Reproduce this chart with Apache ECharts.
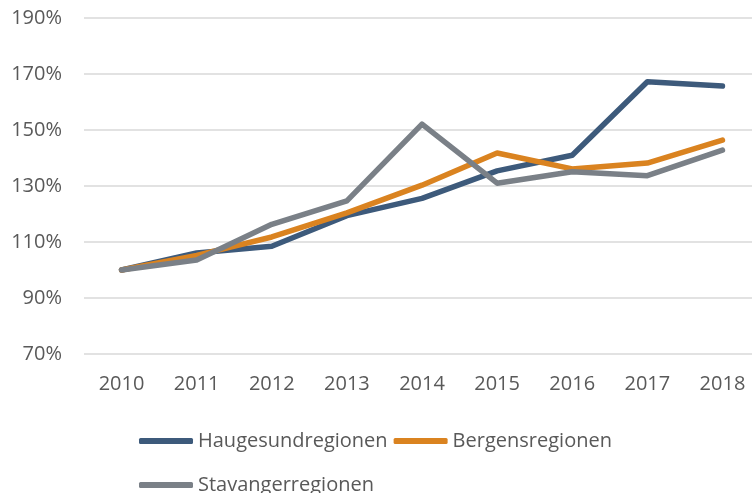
<!DOCTYPE html>
<html>
<head>
<meta charset="utf-8">
<script src="https://cdn.jsdelivr.net/npm/echarts@6/dist/echarts.min.js"></script>
<style>html,body{margin:0;padding:0;background:#fff}#c{width:752px;height:493px}</style>
</head>
<body>
<div id="c"></div>
<script>
const years = ['2010','2011','2012','2013','2014','2015','2016','2017','2018'];
const haugesund = [100, 106.1, 108.5, 119.4, 125.6, 135.4, 141, 167.2, 165.7];
const bergens = [100, 105.2, 111.8, 120.4, 130.3, 141.8, 136.1, 138.2, 146.4];
const stavanger = [100, 103.6, 116.3, 124.7, 152.1, 131, 135.1, 133.7, 142.8];
const yTicks = [70, 90, 110, 130, 150, 170, 190];

const colors = {h:'#3D5A7B', b:'#DA8320', s:'#7A8087'};
const txt = '#595959';
const font = 'Open Sans';

const chart = echarts.init(document.getElementById('c'));
const mk = (name, data, color) => ({
  name, type:'line', data, symbol:'none', smooth:false,
  lineStyle:{width:5.5, color, cap:'round', join:'round'}, itemStyle:{color}
});
chart.setOption({
  animation:false,
  textStyle:{fontFamily:font},
  grid:{left:84, right:-8, top:18, bottom:139, containLabel:false, outerBoundsMode:'none'},
  xAxis:{type:'category', data:years, boundaryGap:true,
    axisLine:{show:false}, axisTick:{show:false},
    axisLabel:{color:txt, fontSize:20, fontFamily:font, margin:20}},
  yAxis:{type:'value', min:yTicks[0], max:yTicks[yTicks.length-1], interval:20,
    axisLine:{show:false}, axisTick:{show:false},
    splitLine:{lineStyle:{color:'#D9D9D9', width:1.5}},
    axisLabel:{color:txt, fontSize:20, fontFamily:font, margin:22, formatter:v=>v+'%'}},
  legend:[
    {data:['Haugesundregionen','Bergensregionen'], left:134, top:426, icon:'roundRect',
     itemWidth:54, itemHeight:6, itemGap:6, textStyle:{color:txt, fontSize:20, fontFamily:font}},
    {data:['Stavangerregionen'], left:134, top:470, icon:'roundRect',
     itemWidth:54, itemHeight:6, textStyle:{color:txt, fontSize:20, fontFamily:font}}
  ],
  series:[mk('Haugesundregionen', haugesund, colors.h), mk('Bergensregionen', bergens, colors.b), mk('Stavangerregionen', stavanger, colors.s)]
});
</script>
</body>
</html>
